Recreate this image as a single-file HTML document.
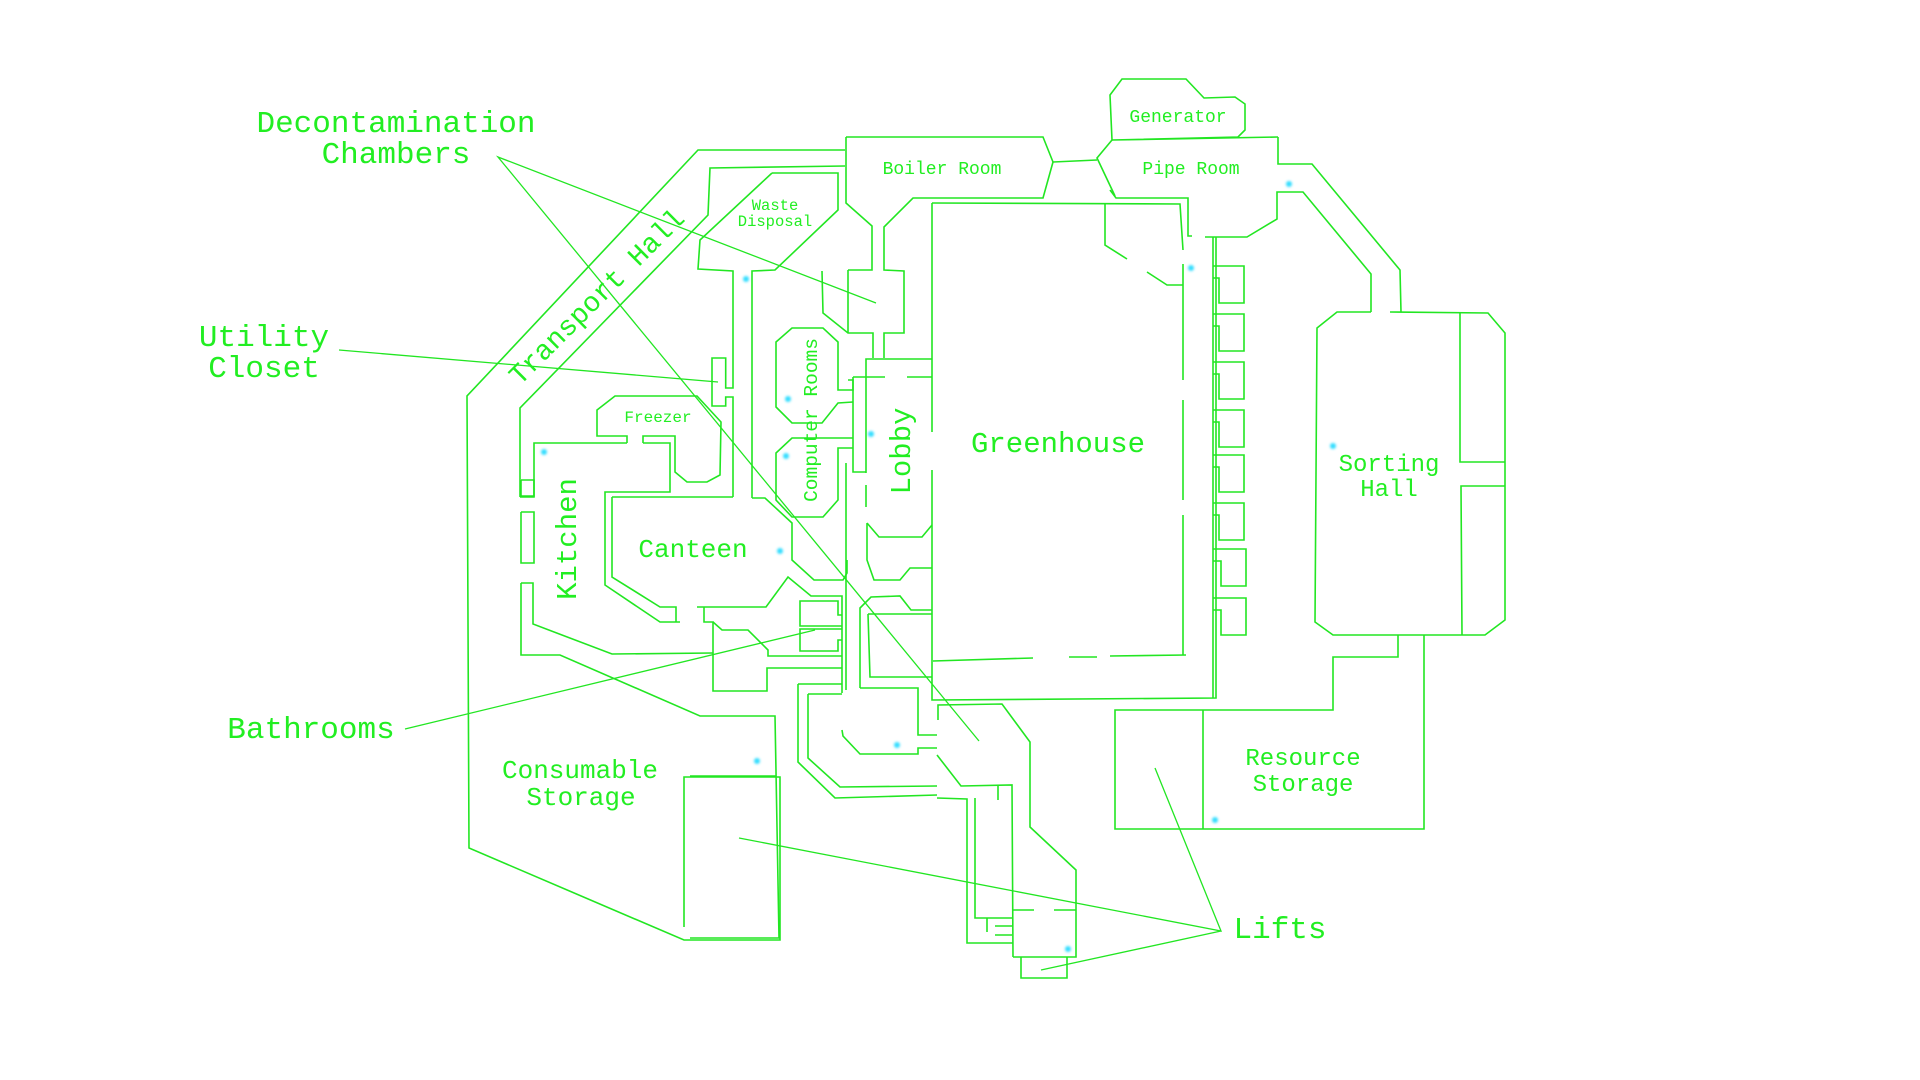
<!DOCTYPE html>
<html><head><meta charset="utf-8"><style>
html,body{margin:0;padding:0;background:#fff;}
svg{display:block;}
text{font-family:"Liberation Mono",monospace;fill:#22ee22;}
</style></head><body>
<svg width="1920" height="1080" viewBox="0 0 1920 1080" xmlns="http://www.w3.org/2000/svg">
<defs><filter id="b"><feGaussianBlur stdDeviation="1.2"/></filter></defs>
<g fill="none" stroke="#22e622" stroke-width="1.6" stroke-linejoin="miter">
<!-- transport hall / outer west -->
<polyline points="845,150 698,150 467,396 469,848 684,940 780,940 780,777 684,777 684,927"/>
<polyline points="845,166 710,168 708,215 520,408 520,497"/>
<polyline points="521,480 534,480 534,496 521,496 521,480"/>
<polyline points="521,512 534,512 534,563 521,563 521,512"/>
<polyline points="521,583 533,583 533,624 612,654 713,653"/>
<polyline points="521,583 521,655 560,655 700,716 775,716 779,938 690,938"/>
<polyline points="690,776 776,776"/>
<!-- waste disposal -->
<polyline points="772,173 838,173 838,210 775,270 752,271 752,498"/>
<polyline points="772,173 700,240 698,269 733,271 733,388 725.7,388 725.7,358 712,358 712,406 725.7,406 725.7,397 733,397 733,497"/>
<!-- freezer / kitchen -->
<polyline points="627,443 627,436 597,436 597,410 615,396 697,396 721,422 720,475 707,482 687,482 675,472 675,436 643,436 643,443"/>
<polyline points="520,497 534,497 534,443 627,443"/>
<polyline points="643,443 670,443 670,492 605,492 605,585 660,622 680,622"/>
<polyline points="612,497 733,497"/>
<polyline points="612,497 612,577 660,607 676,607 676,622"/>
<polyline points="704,607 704,622 713,622 713,691 767,691 767,668 842,668"/>
<polyline points="697,607 766,607 788,577 811,596 842,596 842,693"/>
<polyline points="713,622 722,630 748,630 768,650 768,656 842,656"/>
<polyline points="752,498 765,498 792,523 792,560 814,580 843,580 847,573 847,560"/>
<!-- bathrooms -->
<polyline points="842,615 838,615 838,601 800,601 800,626 842,626"/>
<polyline points="842,629 800,629 800,651 838,651 838,640 842,640"/>
<!-- computer rooms -->
<polyline points="848,380 853,380 853,390 838,390 838,342 823,328 792,328 776,342 776,407 792,423 822,423 838,403 853,402"/>
<polyline points="853,438 792,438 776,453 776,500 792,517 823,517 838,500 838,448 853,448"/>
<polyline points="853,377 853,472 866,472"/>
<polyline points="846,463 846,690"/>
<!-- boiler room / lobby -->
<polyline points="846,137 1043,137 1053,162 1043,198 913,198 884,227 884,270 904,271 904,333 884,333 884,358"/>
<polyline points="846,137 846,203 872,226 872,270 848,270"/>
<polyline points="822,271 823,313 848,333 873,333 873,358"/>
<polyline points="848,270 848,333"/>
<polyline points="866,473 866,359 932,359"/>
<polyline points="866,485 866,507" />
<polyline points="853,377 885,377"/><polyline points="907,377 932,377"/>
<polyline points="867,523 879,537 922,537 932,525"/>
<polyline points="867,523 867,560 874,580 900,580 910,568 932,568"/>
<polyline points="860,688 860,608 871,597 900,596 911,610 932,610"/>
<polyline points="868,614 932,614"/>
<polyline points="868,614 870,677 932,677"/>
<polyline points="860,688 918,688 918,735 937,735"/>
<polyline points="798,684 842,684"/>
<polyline points="798,684 798,762 835,798 937,795"/>
<polyline points="808,694 842,694"/>
<polyline points="808,694 808,758 840,787 937,786"/>
<polyline points="842,730 843,736 860,754 918,754 918,748 937,748"/>
<!-- lifts corridor -->
<polyline points="938,720 938,705 1002,704 1030,742 1030,827 1076,870 1076,957 1013,957"/>
<polyline points="937,755 961,786 1012,785 1013,957"/>
<polyline points="998,785 998,800"/>
<polyline points="937,798 967,799 967,943 1013,943"/>
<polyline points="975,798 975,918 1012,918"/>
<polyline points="987,918 987,932"/><polyline points="995,926 1012,926"/><polyline points="995,935 1012,935"/>
<polyline points="1012,910 1034,910"/><polyline points="1054,910 1076,910"/>
<polyline points="1021,957 1021,978 1067,978 1067,957"/>
<!-- greenhouse -->
<polyline points="932,203 1180,204 1183,250"/>
<polyline points="932,203 932,700 1216,698 1216,237"/>
<polyline points="1105,203 1105,245 1127,259"/>
<polyline points="1147,272 1167,285 1183,285"/>
<polyline points="1183,264 1183,380"/><polyline points="1183,400 1183,500"/><polyline points="1183,515 1183,655"/>
<polyline points="933,661 1033,658"/><polyline points="1069,657 1097,657"/><polyline points="1110,656 1186,655"/>
<polyline points="932,432 932,470" stroke="#fff" stroke-width="3"/>
<polyline points="1110,190 1116,198 1188,198 1188,236 1192,236"/>
<polyline points="1205,237 1247,237 1277,219 1277,192 1303,192 1371,274 1371,312"/>
<polyline points="1278,137 1278,164 1312,164 1400,270 1401,312"/>
<!-- generator / pipe -->
<polyline points="1112,140 1110,95 1122,79 1186,79 1204,98 1235,97 1245,104 1245,130 1238,137 1112,140 1278,137"/>
<polyline points="1112,140 1097,158 1115,196"/>
<polyline points="1053,162 1097,160"/>
<!-- comb -->
<polyline points="1213,237 1213,698"/>
<g>
<polyline points="1213,266 1244,266 1244,303 1219,303 1219,278 1213,278"/>
<polyline points="1213,314 1244,314 1244,351 1219,351 1219,326 1213,326"/>
<polyline points="1213,362 1244,362 1244,399 1219,399 1219,374 1213,374"/>
<polyline points="1213,410 1244,410 1244,447 1219,447 1219,422 1213,422"/>
<polyline points="1213,455 1244,455 1244,492 1219,492 1219,467 1213,467"/>
<polyline points="1213,503 1244,503 1244,540 1219,540 1219,515 1213,515"/>
<polyline points="1213,549 1246,549 1246,586 1221,586 1221,561 1213,561"/>
<polyline points="1213,598 1246,598 1246,635 1221,635 1221,610 1213,610"/>
</g>
<!-- sorting hall -->
<polyline points="1371,312 1337,312 1317,328 1315,622 1333,635 1485,635 1505,620 1505,333 1488,313 1390,312"/>
<polyline points="1460,313 1460,462 1505,462"/>
<polyline points="1505,486 1461,486 1462,635"/>
<polyline points="1398,635 1398,657 1333,657 1333,710 1115,710 1115,829 1424,829 1424,635"/>
<polyline points="1203,710 1203,829"/>
</g>
<!-- leader lines -->
<g stroke="#22e622" stroke-width="1.3" fill="none">
<polyline points="876,303 498,157 979,741"/>
<polyline points="339,350 718,382"/>
<polyline points="405,729 815,630"/>
<polyline points="739,838 1221,931 1155,768"/>
<polyline points="1221,931 1041,970"/>
</g>
<!-- dots -->
<g fill="#33ddff" filter="url(#b)">
<circle cx="746" cy="279" r="3"/><circle cx="788" cy="399" r="3"/><circle cx="786" cy="456" r="3"/>
<circle cx="544" cy="452" r="3"/><circle cx="871" cy="434" r="3"/><circle cx="780" cy="551" r="3"/>
<circle cx="897" cy="745" r="3"/><circle cx="757" cy="761" r="3"/><circle cx="1068" cy="949" r="3"/>
<circle cx="1215" cy="820" r="3"/><circle cx="1333" cy="446" r="3"/><circle cx="1289" cy="184" r="3"/>
<circle cx="1191" cy="268" r="3"/>
</g>
<!-- labels -->
<g text-anchor="middle">
<text x="396" y="132" font-size="31">Decontamination</text>
<text x="396" y="163" font-size="31">Chambers</text>
<text x="264" y="346" font-size="31">Utility</text>
<text x="264" y="377" font-size="31">Closet</text>
<text x="311" y="738" font-size="31">Bathrooms</text>
<text x="1280" y="938" font-size="31">Lifts</text>
<text x="580" y="778" font-size="26">Consumable</text>
<text x="581" y="805" font-size="26">Storage</text>
<text x="1303" y="765" font-size="24">Resource</text>
<text x="1303" y="791" font-size="24">Storage</text>
<text x="1389" y="471" font-size="24">Sorting</text>
<text x="1389" y="496" font-size="24">Hall</text>
<text x="1058" y="452" font-size="29">Greenhouse</text>
<text x="693" y="557" font-size="26">Canteen</text>
<text x="942" y="174" font-size="18">Boiler Room</text>
<text x="1191" y="174" font-size="18">Pipe Room</text>
<text x="1178" y="122" font-size="18">Generator</text>
<text x="775" y="210" font-size="15.5">Waste</text>
<text x="775" y="226" font-size="15.5">Disposal</text>
<text x="658" y="422" font-size="16">Freezer</text>
<text transform="translate(576,539) rotate(-90)" font-size="29">Kitchen</text>
<text transform="translate(910,451) rotate(-90)" font-size="29">Lobby</text>
<text transform="translate(817,420) rotate(-90)" font-size="19.5">Computer Rooms</text>
<text transform="translate(603,303) rotate(-45)" font-size="28">Transport Hall</text>
</g>
</svg>
</body></html>
